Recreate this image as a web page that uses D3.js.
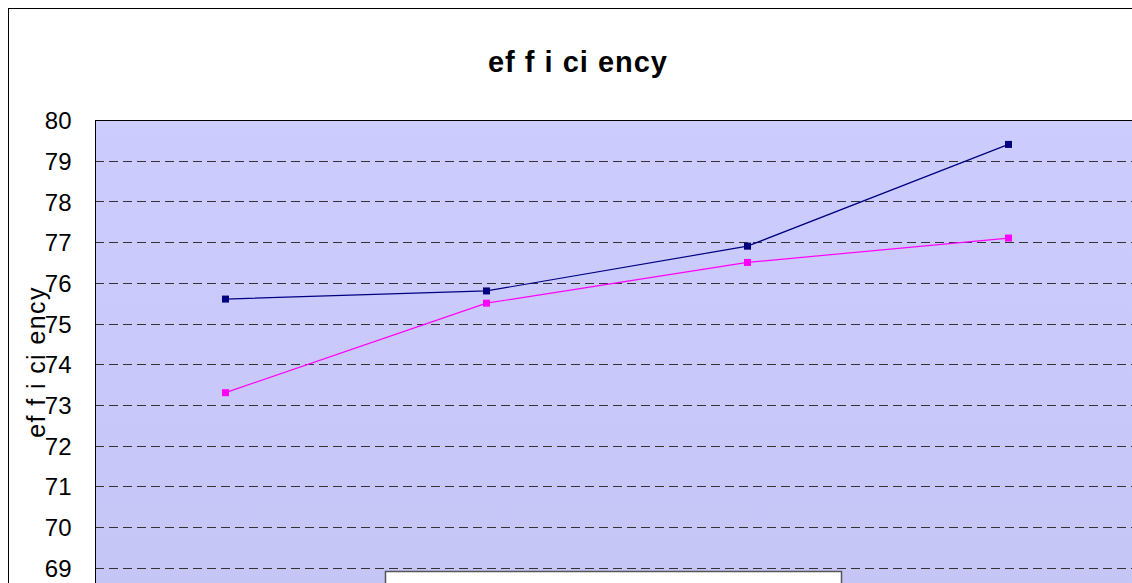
<!DOCTYPE html>
<html><head><meta charset="utf-8">
<script src="https://cdn.jsdelivr.net/npm/d3@7"></script>
<style>body{margin:0;background:#fff;}svg{display:block;font-family:Arial,"Liberation Sans",sans-serif;}</style>
</head><body>
<svg id="c" width="1132" height="583"></svg>
<script>
const categories = ["1", "2", "3", "4"];
const series1 = [75.6, 75.8, 76.9, 79.4];
const series2 = [73.3, 75.5, 76.5, 77.1];
const yTicks = [69, 70, 71, 72, 73, 74, 75, 76, 77, 78, 79, 80];
const colors = ["#000080", "#ff00ff"];

const svg = d3.select("#c");
const plot = {left: 95, top: 120, width: 1044, height: 488};

// chart area border
svg.append("rect").attr("x", 8.5).attr("y", 8.5).attr("width", 1200).attr("height", 700)
  .attr("fill", "#fff").attr("stroke", "#000").attr("stroke-width", 1);

const defs = svg.append("defs");
const grad = defs.append("linearGradient").attr("id", "bg").attr("x1", 0).attr("y1", 0).attr("x2", 0).attr("y2", 1);
grad.append("stop").attr("offset", "0%").attr("stop-color", "#ccccff");
grad.append("stop").attr("offset", "100%").attr("stop-color", "#c3c3f3");

const x = d3.scaleBand().domain(categories).range([plot.left, plot.left + plot.width]);
const y = d3.scaleLinear().domain([58, 80]).range([plot.top + 40.7 * 22, plot.top]);

svg.append("rect").attr("x", plot.left).attr("y", plot.top).attr("width", plot.width).attr("height", 600)
  .attr("fill", "url(#bg)");

// gridlines
const grid = svg.append("g");
grid.selectAll("line").data(yTicks.filter(t => t < 80)).join("line")
  .attr("x1", plot.left).attr("x2", plot.left + plot.width)
  .attr("y1", d => Math.round(y(d)) + 0.5).attr("y2", d => Math.round(y(d)) + 0.5)
  .attr("stroke", "#333").attr("stroke-width", 1).attr("stroke-dasharray", "9,5");

// plot top border
svg.append("line").attr("x1", plot.left).attr("x2", plot.left + plot.width).attr("y1", plot.top + 0.5).attr("y2", plot.top + 0.5).attr("stroke", "#000");

// y axis
const yAxis = d3.axisLeft(y).tickValues(yTicks).tickSize(0).tickPadding(24).tickFormat(d3.format("d"));
const ga = svg.append("g").attr("transform", `translate(${plot.left + 0.5},0)`).call(yAxis);
ga.select(".domain").attr("stroke", "#000").attr("d", `M0,${plot.top}V600`);
ga.selectAll("text").attr("font-size", 24).attr("fill", "#000").attr("font-family", "Arial, 'Liberation Sans', sans-serif").attr("dy", "0.36em");

// title
svg.append("text").attr("x", 578).attr("y", 72).attr("text-anchor", "middle")
  .attr("font-size", 29).attr("font-weight", "bold").attr("letter-spacing", 1)
  .attr("fill", "#000").text("ef f i ci ency");

// y label
svg.append("text").attr("transform", "translate(45,362) rotate(-90)").attr("text-anchor", "middle")
  .attr("font-size", 25).attr("letter-spacing", 1.4).attr("fill", "#000").text("ef f i ci ency");

// series
const line = d3.line().x((d, i) => x(categories[i]) + x.bandwidth() / 2).y(d => y(d));
[series1, series2].forEach((s, k) => {
  svg.append("path").datum(s).attr("d", line).attr("fill", "none").attr("stroke", colors[k]).attr("stroke-width", 1.2);
  svg.append("g").selectAll("rect").data(s).join("rect")
    .attr("x", (d, i) => x(categories[i]) + x.bandwidth() / 2 - 3.5)
    .attr("y", d => y(d) - 3.5).attr("width", 7).attr("height", 7)
    .attr("fill", colors[k]);
});

// legend box (its contents are cut off in the reference)
svg.append("rect").attr("x", 385.5).attr("y", 571.5).attr("width", 456).attr("height", 60)
  .attr("fill", "#fff").attr("stroke", "#555").attr("stroke-width", 1.5);
</script>
</body></html>
